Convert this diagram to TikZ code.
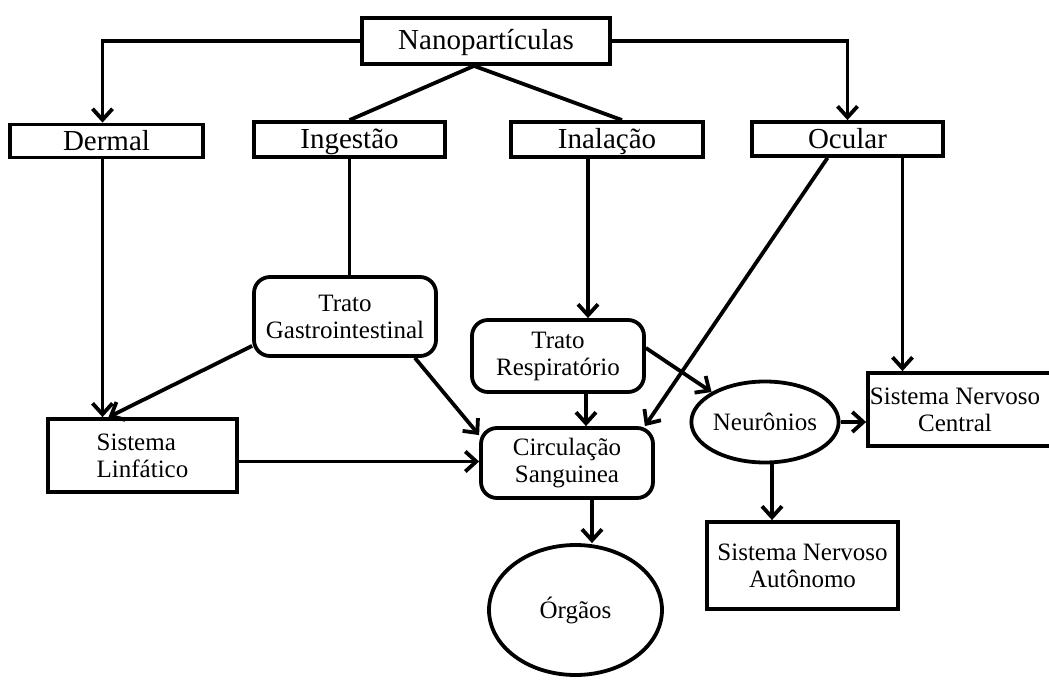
\documentclass[tikz,border=0pt]{standalone}
\usepackage{fontspec}
\setmainfont{Liberation Serif}
\usetikzlibrary{arrows.meta,shapes.geometric}
\begin{document}
\begin{tikzpicture}[x=1pt,y=-1pt,
  box/.style={draw, line width=3.8pt, inner sep=0pt, align=center},
  rbox/.style={box, rounded corners=16pt},
  oval/.style={draw, ellipse, line width=3.8pt, inner sep=0pt, align=center},
  big/.style={font=\fontsize{29}{30}\selectfont, text height=19pt, text depth=1pt},
  small/.style={font=\fontsize{25}{27}\selectfont},
  conn/.style={line width=3.8pt},
  arr/.style={conn, -{Straight Barb[length=11pt,width=20pt]}}]
\useasboundingbox (0,0) rectangle (1049,682);
\clip (0,0) rectangle (1049,682);
\fill[white] (0,0) rectangle (1049,682);

% top rows
\node[box,big,minimum width=248,minimum height=46] (nano) at (486,41) {Nanopartículas};
\node[box,big,minimum width=193,minimum height=33] (dermal) at (106.5,141) {Dermal};
\node[box,big,minimum width=191,minimum height=35] (ingest) at (349.5,139.5) {Ingestão};
\node[box,big,minimum width=192,minimum height=35] (inal) at (607,139.5) {Inalação};
\node[box,big,minimum width=191,minimum height=34] (ocular) at (847.5,139) {Ocular};

% lower nodes
\node[rbox,small,minimum width=182,minimum height=79] (gi) at (345,316.5) {Trato\\Gastrointestinal};
\node[rbox,small,minimum width=172,minimum height=72] (tr) at (558,356) {Trato\\Respiratório};
\node[rbox,small,minimum width=172,minimum height=70] (circ) at (567,463) {Circulação\\Sanguinea};
\node[box,small,minimum width=189,minimum height=73,align=left] (linf) at (142.5,455.5) {Sistema\\Linfático};
\node[oval,small,minimum width=124,minimum height=81] (neur) at (765,422) {Neurônios};
\node[box,small,minimum width=188,minimum height=73] (snc) at (962,409.5) {\hspace*{-14pt}Sistema Nervoso\\\hspace*{-14pt}Central};
\node[box,small,minimum width=191,minimum height=87] (sna) at (802.5,565.5) {Sistema Nervoso\\Autônomo};
\node[oval,small,minimum width=173,minimum height=130] (org) at (575.5,610) {\raisebox{-5pt}{Órgãos}};

% coordinates for connector ends
\coordinate (nb) at ([xshift=-12]nano.south);
\coordinate (ingb) at (ingest.south);
\coordinate (inab) at ([xshift=-19]inal.south);
\coordinate (ocb1) at ([xshift=-20]ocular.south);
\coordinate (ocb2) at ([xshift=55]ocular.south);
\coordinate (derb) at ([xshift=-4]dermal.south);
\coordinate (lint) at ([xshift=-34]linf.north);
\coordinate (gibl) at ([yshift=12]gi.south west);
\coordinate (gibr) at ([xshift=-23]gi.south east);
\coordinate (cirtl) at ([yshift=-9]circ.north west);
\coordinate (cirtr) at ([xshift=-10]circ.north east);
\coordinate (linr) at ([yshift=-6]linf.east);
\coordinate (trb) at ([xshift=28]tr.south);
\coordinate (trr) at ([yshift=8]tr.east);
\coordinate (neub) at ([xshift=7]neur.south);
\coordinate (cirb) at ([xshift=25]circ.south);
\coordinate (inat) at ([xshift=15]inal.north);

% connectors
\draw[arr] (nano.west) -| (derb |- dermal.north);
\draw[arr] (nano.east) -| (ocular.north);
\draw[conn] (nb) -- (ingest.north);
\draw[conn] (nb) -- (inat);
\draw[conn] (ingb) -- (ingb |- gi.north);
\draw[arr] (inab) -- (inab |- tr.north);
\draw[arr] (ocb1) -- (cirtr);
\draw[arr] (ocb2) -- (ocb2 |- snc.north);
\draw[arr] (derb) -- (derb |- linf.north);
\draw[arr] (gibl) -- (lint);
\draw[arr] (gibr) -- (cirtl);
\draw[arr] (linr) -- (linr -| circ.west);
\draw[arr] (trb) -- (trb |- circ.north);
\draw[arr] (trr) -- (neur.north west);
\draw[arr] (neur.east) -- (neur.east -| snc.west);
\draw[arr] (neub) -- (neub |- sna.north);
\draw[arr] (cirb) -- (cirb |- org.north);
\end{tikzpicture}
\end{document}
